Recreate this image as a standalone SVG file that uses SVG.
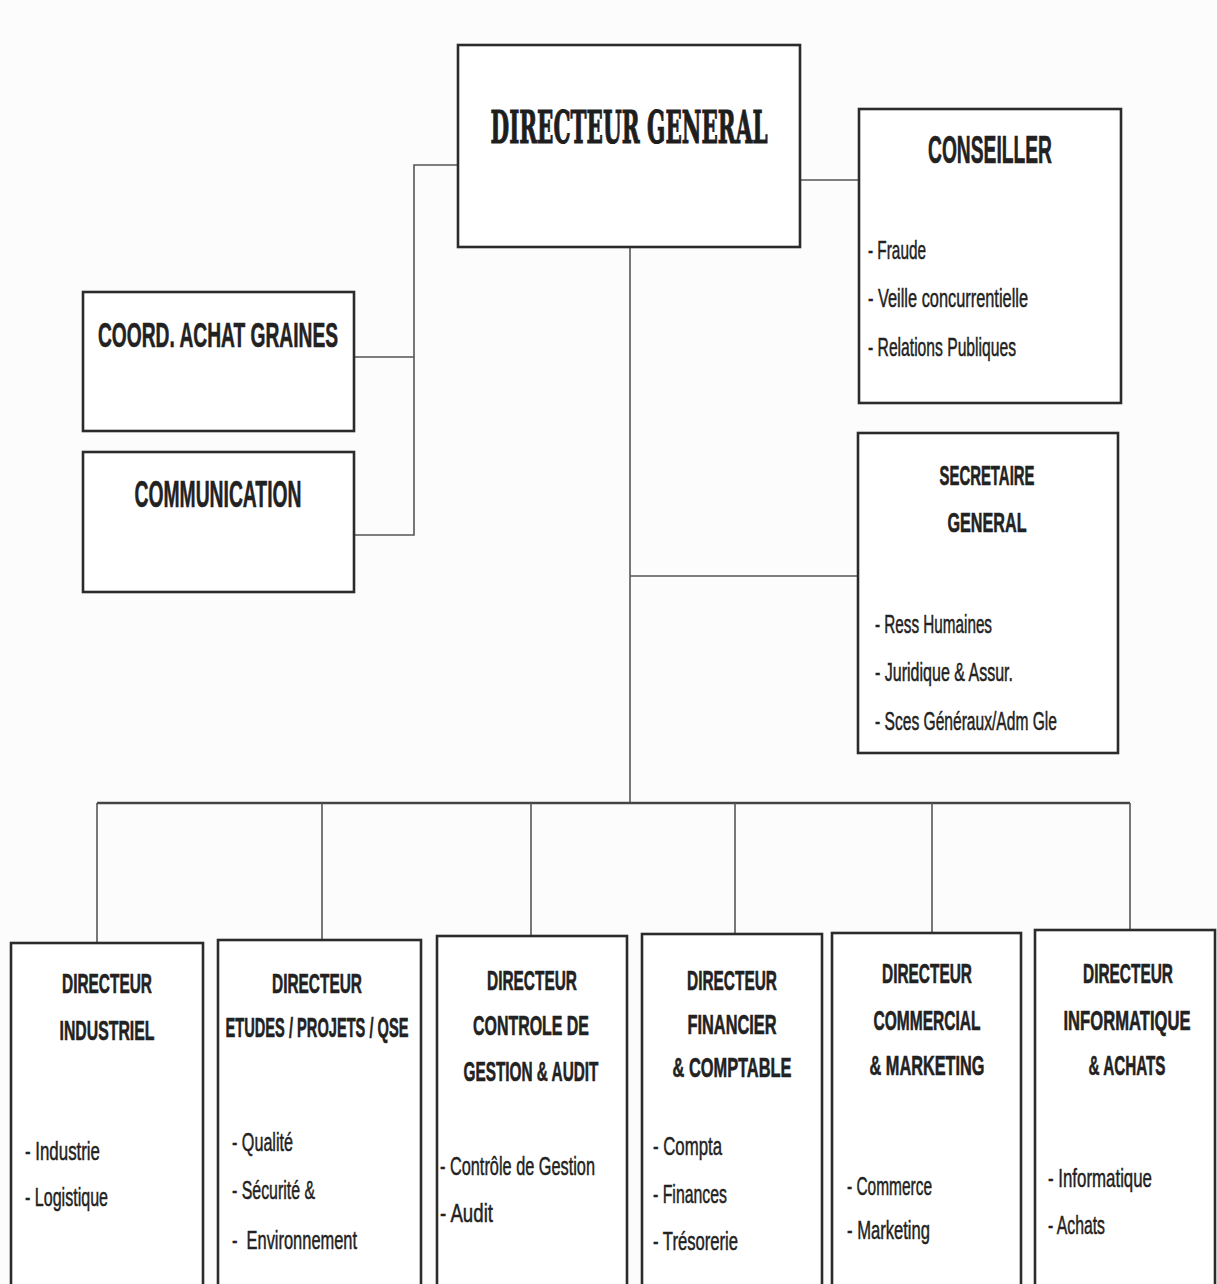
<svg xmlns="http://www.w3.org/2000/svg" width="1217" height="1284" viewBox="0 0 1217 1284">
  <style>
    .box { fill: #ffffff; stroke: #2b2b2b; stroke-width: 2.6; }
    .link { fill: none; stroke: #555555; stroke-width: 1.6; }
    .bus { fill: none; stroke: #444444; stroke-width: 2.4; }
    .dg { font-family: "DejaVu Serif", "Liberation Serif", serif; font-weight: bold; fill: #1e1e1e; stroke: #1e1e1e; stroke-width: 1.2; }
    .title { font-family: "Liberation Sans", Arial, sans-serif; font-weight: bold; fill: #222222; stroke: #222222; stroke-width: 0.6; text-anchor: middle; }
    .item { font-family: "Liberation Sans", Arial, sans-serif; fill: #222222; stroke: #222222; stroke-width: 0.5; }
  </style>
  <rect x="0" y="0" width="1217" height="1284" fill="#fcfcfc"/>

  <!-- reporting lines -->
  <g id="connectors">
    <polyline class="link" points="458,165 414,165 414,535 354,535"/>
    <line class="link" x1="354" y1="357" x2="414" y2="357"/>
    <line class="link" x1="800" y1="180" x2="859" y2="180"/>
    <line class="link" x1="630" y1="247" x2="630" y2="803"/>
    <line class="link" x1="630" y1="576" x2="858" y2="576"/>
    <line class="bus" x1="97" y1="803" x2="1130" y2="803"/>
    <line class="link" x1="97" y1="803" x2="97" y2="943"/>
    <line class="link" x1="322" y1="803" x2="322" y2="940"/>
    <line class="link" x1="531" y1="803" x2="531" y2="936"/>
    <line class="link" x1="735" y1="803" x2="735" y2="934"/>
    <line class="link" x1="932" y1="803" x2="932" y2="933"/>
    <line class="link" x1="1130" y1="803" x2="1130" y2="930"/>
  </g>

  <g id="directeur-general">
    <rect class="box" x="458" y="45" width="342" height="202"/>
    <text class="dg" x="629" y="143" font-size="44" text-anchor="middle" textLength="277" lengthAdjust="spacingAndGlyphs">DIRECTEUR GENERAL</text>
  </g>

  <g id="conseiller">
    <rect class="box" x="859" y="109" width="262" height="294"/>
    <text class="title" x="990" y="163" font-size="38" textLength="124" lengthAdjust="spacingAndGlyphs">CONSEILLER</text>
    <text class="item" x="868" y="259" font-size="26" textLength="58" lengthAdjust="spacingAndGlyphs">- Fraude</text>
    <text class="item" x="868" y="307" font-size="26" textLength="160" lengthAdjust="spacingAndGlyphs">- Veille concurrentielle</text>
    <text class="item" x="868" y="356" font-size="26" textLength="148" lengthAdjust="spacingAndGlyphs">- Relations Publiques</text>
  </g>

  <g id="coord-achat-graines">
    <rect class="box" x="83" y="292" width="271" height="139"/>
    <text class="title" x="218" y="347" font-size="35" textLength="240" lengthAdjust="spacingAndGlyphs">COORD. ACHAT GRAINES</text>
  </g>

  <g id="communication">
    <rect class="box" x="83" y="452" width="271" height="140"/>
    <text class="title" x="218" y="507" font-size="37" textLength="167" lengthAdjust="spacingAndGlyphs">COMMUNICATION</text>
  </g>

  <g id="secretaire-general">
    <rect class="box" x="858" y="433" width="260" height="320"/>
    <text class="title" x="987" y="485" font-size="27" textLength="95" lengthAdjust="spacingAndGlyphs">SECRETAIRE</text>
    <text class="title" x="987" y="532" font-size="27" textLength="79" lengthAdjust="spacingAndGlyphs">GENERAL</text>
    <text class="item" x="875" y="633" font-size="25" textLength="117" lengthAdjust="spacingAndGlyphs">- Ress Humaines</text>
    <text class="item" x="875" y="681" font-size="25" textLength="138" lengthAdjust="spacingAndGlyphs">- Juridique &amp; Assur.</text>
    <text class="item" x="875" y="730" font-size="25" textLength="182" lengthAdjust="spacingAndGlyphs">- Sces Généraux/Adm Gle</text>
  </g>

  <g id="directeur-industriel">
    <rect class="box" x="11" y="943" width="192" height="350"/>
    <text class="title" x="107" y="993" font-size="28" textLength="90" lengthAdjust="spacingAndGlyphs">DIRECTEUR</text>
    <text class="title" x="107" y="1040" font-size="28" textLength="95" lengthAdjust="spacingAndGlyphs">INDUSTRIEL</text>
    <text class="item" x="25" y="1160" font-size="26" textLength="75" lengthAdjust="spacingAndGlyphs">- Industrie</text>
    <text class="item" x="25" y="1206" font-size="26" textLength="83" lengthAdjust="spacingAndGlyphs">- Logistique</text>
  </g>

  <g id="directeur-etudes">
    <rect class="box" x="218" y="940" width="203" height="350"/>
    <text class="title" x="317" y="993" font-size="28" textLength="90" lengthAdjust="spacingAndGlyphs">DIRECTEUR</text>
    <text class="title" x="317" y="1037" font-size="28" textLength="183" lengthAdjust="spacingAndGlyphs">ETUDES / PROJETS / QSE</text>
    <text class="item" x="232" y="1151" font-size="26" textLength="61" lengthAdjust="spacingAndGlyphs">- Qualité</text>
    <text class="item" x="232" y="1199" font-size="26" textLength="83" lengthAdjust="spacingAndGlyphs">- Sécurité &amp;</text>
    <text class="item" x="232" y="1249" font-size="26" textLength="125" lengthAdjust="spacingAndGlyphs" xml:space="preserve">-  Environnement</text>
  </g>

  <g id="directeur-controle">
    <rect class="box" x="437" y="936" width="190" height="355"/>
    <text class="title" x="532" y="990" font-size="28" textLength="90" lengthAdjust="spacingAndGlyphs">DIRECTEUR</text>
    <text class="title" x="531" y="1035" font-size="28" textLength="116" lengthAdjust="spacingAndGlyphs">CONTROLE DE</text>
    <text class="title" x="531" y="1081" font-size="28" textLength="135" lengthAdjust="spacingAndGlyphs">GESTION &amp; AUDIT</text>
    <text class="item" x="440" y="1175" font-size="26" textLength="155" lengthAdjust="spacingAndGlyphs">- Contrôle de Gestion</text>
    <text class="item" x="440" y="1222" font-size="26" textLength="53" lengthAdjust="spacingAndGlyphs">- Audit</text>
  </g>

  <g id="directeur-financier">
    <rect class="box" x="642" y="934" width="180" height="355"/>
    <text class="title" x="732" y="990" font-size="28" textLength="90" lengthAdjust="spacingAndGlyphs">DIRECTEUR</text>
    <text class="title" x="732" y="1034" font-size="28" textLength="89" lengthAdjust="spacingAndGlyphs">FINANCIER</text>
    <text class="title" x="732" y="1077" font-size="28" textLength="119" lengthAdjust="spacingAndGlyphs">&amp; COMPTABLE</text>
    <text class="item" x="653" y="1155" font-size="26" textLength="69" lengthAdjust="spacingAndGlyphs">- Compta</text>
    <text class="item" x="653" y="1203" font-size="26" textLength="74" lengthAdjust="spacingAndGlyphs">- Finances</text>
    <text class="item" x="653" y="1250" font-size="26" textLength="85" lengthAdjust="spacingAndGlyphs">- Trésorerie</text>
  </g>

  <g id="directeur-commercial">
    <rect class="box" x="832" y="933" width="189" height="360"/>
    <text class="title" x="927" y="983" font-size="28" textLength="90" lengthAdjust="spacingAndGlyphs">DIRECTEUR</text>
    <text class="title" x="927" y="1030" font-size="28" textLength="107" lengthAdjust="spacingAndGlyphs">COMMERCIAL</text>
    <text class="title" x="927" y="1075" font-size="28" textLength="115" lengthAdjust="spacingAndGlyphs">&amp; MARKETING</text>
    <text class="item" x="847" y="1195" font-size="26" textLength="85" lengthAdjust="spacingAndGlyphs">- Commerce</text>
    <text class="item" x="847" y="1239" font-size="26" textLength="83" lengthAdjust="spacingAndGlyphs">- Marketing</text>
  </g>

  <g id="directeur-informatique">
    <rect class="box" x="1035" y="930" width="180" height="360"/>
    <text class="title" x="1128" y="983" font-size="28" textLength="90" lengthAdjust="spacingAndGlyphs">DIRECTEUR</text>
    <text class="title" x="1127" y="1030" font-size="28" textLength="127" lengthAdjust="spacingAndGlyphs">INFORMATIQUE</text>
    <text class="title" x="1127" y="1075" font-size="28" textLength="77" lengthAdjust="spacingAndGlyphs">&amp; ACHATS</text>
    <text class="item" x="1048" y="1187" font-size="26" textLength="104" lengthAdjust="spacingAndGlyphs">- Informatique</text>
    <text class="item" x="1048" y="1234" font-size="26" textLength="57" lengthAdjust="spacingAndGlyphs">- Achats</text>
  </g>
</svg>
